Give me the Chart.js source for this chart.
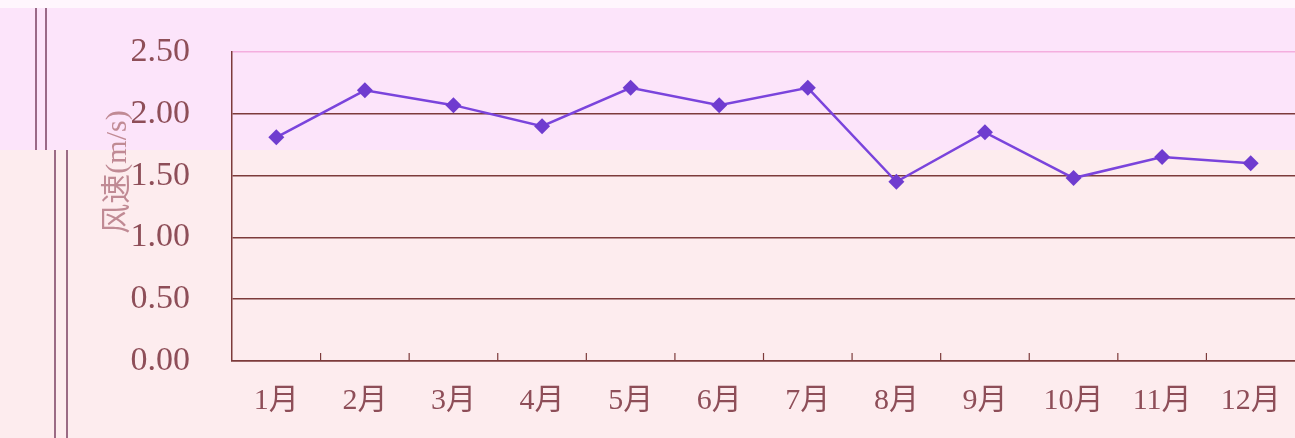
<!DOCTYPE html>
<html>
<head>
<meta charset="utf-8">
<script src="https://cdn.jsdelivr.net/npm/chart.js@4"></script>
<style>
  html, body { margin: 0; padding: 0; background: #fdecee; }
  #wrap { width: 1295px; height: 438px; }
</style>
</head>
<body>
<div id="wrap"><canvas id="windChart" width="1295" height="438"></canvas></div>
<script>
// monthly mean wind speed
const months = ['1月', '2月', '3月', '4月', '5月', '6月', '7月', '8月', '9月', '10月', '11月', '12月'];
const speeds = [1.81, 2.19, 2.07, 1.90, 2.21, 2.07, 2.21, 1.45, 1.85, 1.48, 1.65, 1.60];
const yTicks = [0, 0.5, 1.0, 1.5, 2.0, 2.5];
const yTitle = '风速(m/s)';

const textColor = '#8e4e58';
const gridColor = '#7d3b3b';

// page background + frame lines
const backdrop = {
  id: 'backdrop',
  beforeDraw(chart) {
    const ctx = chart.ctx;
    ctx.save();
    ctx.fillStyle = '#fdecee';
    ctx.fillRect(0, 0, chart.width, chart.height);
    ctx.fillStyle = '#fce4fa';
    ctx.fillRect(0, 8, chart.width, 142);
    ctx.fillStyle = '#fff6fd';
    ctx.fillRect(0, 0, chart.width, 8);
    ctx.strokeStyle = '#7a4060';
    ctx.lineWidth = 1.5;
    [[36, 8, 150], [46, 8, 150], [55, 150, 438], [67, 150, 438]].forEach(([x, y0, y1]) => {
      ctx.beginPath();
      ctx.moveTo(x, y0);
      ctx.lineTo(x, y1);
      ctx.stroke();
    });
    ctx.restore();
  },
  afterDraw(chart) {
    const ctx = chart.ctx;
    const x = chart.scales.x;
    const area = chart.chartArea;
    ctx.save();
    // small tick marks between categories, pointing up
    ctx.strokeStyle = gridColor;
    ctx.lineWidth = 1.2;
    for (let i = 1; i < months.length; i++) {
      const px = (x.getPixelForValue(i - 1) + x.getPixelForValue(i)) / 2;
      ctx.beginPath();
      ctx.moveTo(px, area.bottom);
      ctx.lineTo(px, area.bottom - 8);
      ctx.stroke();
    }
    // rotated axis title
    ctx.translate(118, 172);
    ctx.rotate(-Math.PI / 2);
    ctx.fillStyle = '#c08a94';
    ctx.font = '30px "Liberation Serif", "Noto Sans CJK SC"';
    ctx.textAlign = 'center';
    ctx.textBaseline = 'middle';
    ctx.fillText(yTitle, 0, 0);
    ctx.restore();
  }
};

new Chart(document.getElementById('windChart').getContext('2d'), {
  type: 'line',
  data: {
    labels: months,
    datasets: [{
      label: yTitle,
      data: speeds,
      borderColor: '#7a44dc',
      backgroundColor: '#6f3ccf',
      borderWidth: 2.5,
      pointStyle: 'rectRot',
      pointRadius: 8,
      pointBorderWidth: 0,
      tension: 0
    }]
  },
  options: {
    responsive: false,
    animation: false,
    layout: { autoPadding: false, padding: { top: 52, right: 0, bottom: 0, left: 0 } },
    plugins: {
      legend: { display: false },
      tooltip: { enabled: false }
    },
    scales: {
      x: {
        offset: true,
        // invisible tick marks give the label gap without extra side padding
        grid: { drawOnChartArea: false, drawTicks: true, tickLength: 22, tickColor: 'transparent' },
        border: { color: gridColor, width: 1.5 },
        ticks: {
          color: textColor,
          padding: 0,
          font: { family: '"Liberation Serif", "Noto Sans CJK SC"', size: 30 }
        },
        afterFit(scale) {
          scale.height = 77;
          scale.paddingLeft = 0;
          scale.paddingRight = 0;
        }
      },
      y: {
        min: 0,
        max: 2.5,
        afterBuildTicks(scale) { scale.ticks = yTicks.map(v => ({ value: v })); },
        grid: {
          drawTicks: true,
          tickLength: 20,
          tickColor: 'transparent',
          lineWidth: 1.5,
          color: ctx => (ctx.tick && ctx.tick.value === 2.5 ? '#f4aede' : gridColor)
        },
        border: { color: gridColor, width: 1.5 },
        ticks: {
          color: textColor,
          padding: 22,
          font: { family: '"Liberation Serif", "Noto Sans CJK SC"', size: 34 },
          callback: v => Number(v).toFixed(2)
        },
        afterFit(scale) { scale.width = 232; }
      }
    }
  },
  plugins: [backdrop]
});
</script>
</body>
</html>
